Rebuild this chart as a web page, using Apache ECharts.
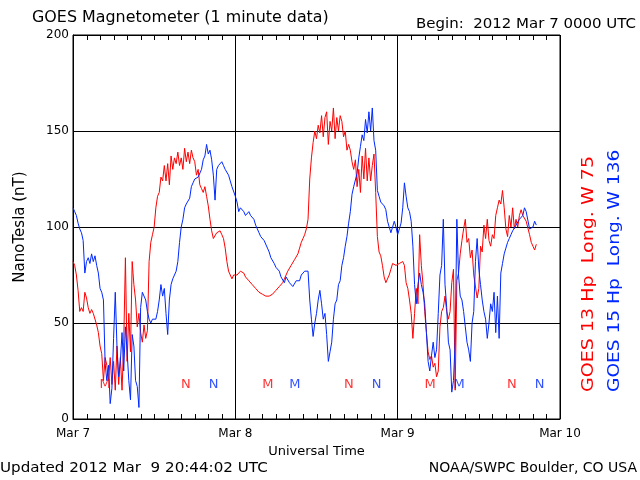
<!DOCTYPE html>
<html><head><meta charset="utf-8">
<script src="https://cdn.jsdelivr.net/npm/echarts@6/dist/echarts.min.js"></script>
<style>html,body{margin:0;padding:0;background:#fff}#c{width:640px;height:480px}</style>
</head><body><div id="c"></div>
<script>
// GOES magnetometer Hp, 15-minute samples starting 2012 Mar 7 00:00 UTC
const sampleStepHours = 0.25;
const goes13 = [
82,80,75,67,56,58,56,66,63,58,55,57,55,54,49,45,38,34,20,32,
28,20,32,18,30,15,38,18,32,15,40,84,30,55,35,82,70,62,48,55,
45,40,49,42,46,82,92,96,100,110,116,118,126,124,132,124,133,122,137,130,
136,133,139,132,136,130,141,134,139,133,140,136,134,127,130,122,120,118,121,116,
111,104,98,94,95,97,98,98,96,94,89,82,77,75,73,75,74,75,75,77,
77,76,74,73,72,71,70,69,68,67,66,65,65,64,64,64,64,64,65,66,
67,68,69,70,71,73,75,77,78,80,81,83,84,86,89,92,94,96,99,104,
125,136,144,150,146,153,149,158,147,157,160,143,155,150,162,146,157,150,158,155,
147,150,140,143,140,134,130,135,121,130,118,137,125,141,124,136,124,132,138,118,
95,87,85,80,74,71,72,75,78,81,82,80,79,81,82,82,80,71,68,62,
55,42,55,68,60,96,80,70,56,45,35,31,33,27,29,22,25,48,56,58,
64,56,52,56,71,78,15,72,76,86,93,99,104,92,94,84,88,75,76,63,
68,90,87,101,94,104,93,90,96,94,106,110,114,112,119,110,99,95,106,100,
110,99,104,100,106,109,106,106,103,102,96,92,90,88,91
];
const goes15 = [
110,108,106,102,99,97,93,76,82,84,81,86,82,85,80,76,68,66,62,29,
20,28,8,16,42,66,38,22,30,45,25,48,35,20,10,44,38,20,17,6,
58,66,66,62,56,52,50,52,52,52,56,62,70,64,68,55,44,62,70,73,
74,77,82,92,100,104,110,112,113,115,121,123,125,126,126,125,130,135,137,143,
138,140,135,127,114,130,132,133,134,132,130,129,127,124,121,120,116,113,108,110,
111,108,106,107,108,106,105,104,101,99,97,95,94,93,92,89,87,84,83,81,
79,78,77,74,73,71,74,73,71,70,69,70,72,71,72,75,76,77,77,77,
62,52,43,50,55,62,67,60,52,55,44,30,35,40,52,60,62,70,72,80,
84,90,95,102,108,117,121,120,128,136,142,148,145,156,149,160,150,162,145,140,
119,116,113,112,111,109,103,100,97,96,103,100,96,99,102,110,123,116,110,108,
103,90,70,60,70,76,70,66,60,45,30,25,33,40,32,36,55,75,80,104,
70,58,40,36,14,20,40,104,75,64,62,56,48,40,36,30,50,56,82,94,
78,70,62,56,52,42,50,60,56,66,45,64,42,76,81,86,89,92,94,96,
98,99,101,102,104,105,106,110,108,107,99,99,100,103,101
];
const dayLabels = ['Mar 7', 'Mar 8', 'Mar 9', 'Mar 10'];
const tickHours = [2,4,6,8,10,12,14,16,18,20,22,26,28,30,32,34,36,38,40,42,44,46,50,52,54,56,58,60,62,64,66,68,70];
const marker13Times = [4.75, 16.7, 28.8, 40.8, 52.8, 64.9];
const marker13Text = ['M', 'N', 'M', 'N', 'M', 'N'];
const marker15Times = [20.8, 32.8, 44.9, 57.1, 69.0];
const marker15Text = ['N', 'M', 'N', 'M', 'N'];
const markerLevel = 17.7;
const yMin = 0, yMax = 200;

const RED = '#ff0000', BLUE = '#0028ff';
const FONT = 'DejaVu Sans';

const toPairs = arr => arr.map((v, i) => [i * sampleStepHours, v]);
const markerData = (ts, txt) => ts.map((t, i) => [t, markerLevel, txt[i]]);

const chart = echarts.init(document.getElementById('c'), null, {renderer: 'canvas'});
chart.setOption({
  animation: false,
  backgroundColor: '#fff',
  textStyle: {fontFamily: FONT},
  grid: {left: 73, right: 80, top: 35, bottom: 61, show: true, borderColor: '#000', borderWidth: 1, backgroundColor: 'transparent'},
  xAxis: {
    type: 'value', min: 0, max: 72, interval: 24, position: 'bottom',
    axisLine: {show: true, onZero: false, lineStyle: {color: '#000'}},
    axisTick: {show: false},
    axisLabel: {color: '#000', fontSize: 12, margin: 9, fontFamily: FONT, formatter: v => dayLabels[Math.round(v / 24)]},
    splitLine: {show: true, lineStyle: {color: '#000', width: 1}},
    name: 'Universal Time', nameLocation: 'middle', nameGap: 25,
    nameTextStyle: {color: '#000', fontSize: 13, fontFamily: FONT}
  },
  yAxis: {
    type: 'value', min: yMin, max: yMax, interval: 50,
    axisLine: {show: true, onZero: false, lineStyle: {color: '#000'}},
    axisTick: {show: false},
    axisLabel: {color: '#000', fontSize: 12, margin: 4, fontFamily: FONT},
    splitLine: {show: true, lineStyle: {color: '#000', width: 1}},
    name: 'NanoTesla (nT)', nameLocation: 'middle', nameGap: 45, nameRotate: 90,
    nameTextStyle: {color: '#000', fontSize: 15, fontFamily: FONT}
  },
  series: [
    {type: 'custom', z: 6, silent: true,
     data: tickHours.map(h => [h, yMin]),
     encode: {x: 0, y: 1},
     renderItem: (params, api) => {
       const b = api.coord([api.value(0), yMin]);
       const t = api.coord([api.value(0), yMax]);
       const x = Math.round(b[0]) + 0.5;
       const st = {stroke: '#000', lineWidth: 1};
       return {type: 'group', children: [
         {type: 'line', shape: {x1: x, y1: b[1], x2: x, y2: b[1] - 5}, style: st},
         {type: 'line', shape: {x1: x, y1: t[1], x2: x, y2: t[1] + 5}, style: st}
       ]};
     }},
    {type: 'line', name: 'GOES 13', data: toPairs(goes13), showSymbol: false, symbol: 'none',
     lineStyle: {color: RED, width: 1}, itemStyle: {color: RED}, z: 3},
    {type: 'line', name: 'GOES 15', data: toPairs(goes15), showSymbol: false, symbol: 'none',
     lineStyle: {color: BLUE, width: 1}, itemStyle: {color: BLUE}, z: 4},
    {type: 'scatter', data: markerData(marker13Times, marker13Text), symbolSize: 1,
     itemStyle: {color: 'rgba(0,0,0,0)'}, z: 5,
     label: {show: true, position: 'inside', color: RED, fontSize: 13, fontFamily: FONT, formatter: p => p.value[2]}},
    {type: 'scatter', data: markerData(marker15Times, marker15Text), symbolSize: 1,
     itemStyle: {color: 'rgba(0,0,0,0)'}, z: 5,
     label: {show: true, position: 'inside', color: BLUE, fontSize: 13, fontFamily: FONT, formatter: p => p.value[2]}}
  ],
  graphic: [
    {type: 'text', x: 32, y: 18, scaleX: 1.06,
     style: {text: 'GOES Magnetometer (1 minute data)', fill: '#000', font: '15px "DejaVu Sans"', textAlign: 'left', textVerticalAlign: 'middle'}},
    {type: 'text', x: 636, y: 24, scaleX: 1.07,
     style: {text: 'Begin:  2012 Mar 7 0000 UTC', fill: '#000', font: '14px "DejaVu Sans"', textAlign: 'right', textVerticalAlign: 'middle'}},
    {type: 'text', x: 0, y: 468, scaleX: 1.08,
     style: {text: 'Updated 2012 Mar  9 20:44:02 UTC', fill: '#000', font: '14px "DejaVu Sans"', textAlign: 'left', textVerticalAlign: 'middle'}},
    {type: 'text', x: 637, y: 468,
     style: {text: 'NOAA/SWPC Boulder, CO USA', fill: '#000', font: '14px "DejaVu Sans"', textAlign: 'right', textVerticalAlign: 'middle'}},
    {type: 'text', x: 589, y: 392, rotation: Math.PI / 2, scaleX: 1.27,
     style: {text: 'GOES 13 Hp  Long. W 75', fill: RED, font: '15px "DejaVu Sans"', textAlign: 'left', textVerticalAlign: 'middle'}},
    {type: 'text', x: 615, y: 392, rotation: Math.PI / 2, scaleX: 1.24,
     style: {text: 'GOES 15 Hp  Long. W 136', fill: BLUE, font: '15px "DejaVu Sans"', textAlign: 'left', textVerticalAlign: 'middle'}}
  ]
});
</script></body></html>
